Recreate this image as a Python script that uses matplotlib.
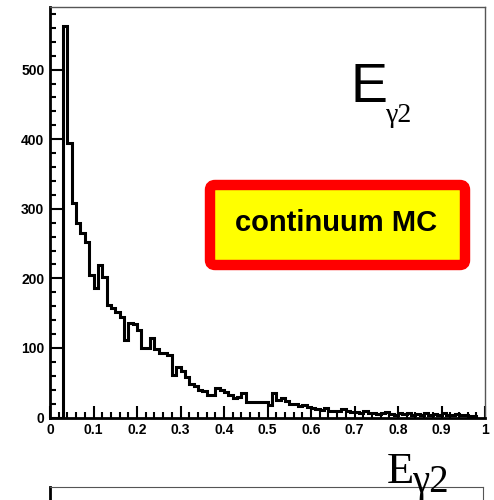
import numpy as np
import matplotlib
matplotlib.use("Agg")
import matplotlib.pyplot as plt
from matplotlib.patches import FancyBboxPatch
from matplotlib.ticker import MultipleLocator, FixedFormatter, FixedLocator

# histogram of E_gamma2, bins of 0.01 starting at 0.03
bin_start = 0.03
bin_width = 0.01
counts = [562, 395, 308, 280, 265, 252, 205, 186, 219, 202,
          162, 158, 152, 145, 112, 136, 135, 126, 100, 100,
          114, 98, 93, 92, 90, 61, 73, 67, 58, 48,
          45, 40, 38, 32, 33, 42, 40, 37, 33, 28,
          30, 35, 22, 22, 22, 22, 22, 18, 35, 25,
          28, 24, 20, 20, 17, 18, 15, 14, 12, 11,
          13, 10, 9, 10, 12, 10, 8, 8, 7, 9,
          6, 7, 5, 6, 8, 5, 4, 6, 5, 7,
          4, 5, 3, 6, 4, 5, 3, 6, 4, 3,
          5, 3, 4, 2, 2]
edges = bin_start + bin_width * np.arange(len(counts) + 1)

xticks = [0, 0.1, 0.2, 0.3, 0.4, 0.5, 0.6, 0.7, 0.8, 0.9, 1.0]
xtick_labels = ["0", "0.1", "0.2", "0.3", "0.4", "0.5", "0.6", "0.7", "0.8", "0.9", "1"]
yticks = [0, 100, 200, 300, 400, 500]
ytick_labels = ["0", "100", "200", "300", "400", "500"]

W, H = 494, 500
fig = plt.figure(figsize=(W / 100, H / 100), dpi=100)
fig.patch.set_facecolor("white")

L, R, T, B = 50, 485, 7, 417.5
ax = fig.add_axes([L / W, 1 - B / H, (R - L) / W, (B - T) / H])

ax.stairs(counts, edges, color="black", lw=2.2, baseline=0)

ax.set_xlim(0, 1)
ax.set_ylim(0, 590)

ax.xaxis.set_major_locator(FixedLocator(xticks))
ax.xaxis.set_major_formatter(FixedFormatter(xtick_labels))
ax.xaxis.set_minor_locator(MultipleLocator(0.02))
ax.yaxis.set_major_locator(FixedLocator(yticks))
ax.yaxis.set_major_formatter(FixedFormatter(ytick_labels))
ax.yaxis.set_minor_locator(MultipleLocator(20))

ax.tick_params(which="both", direction="in", top=False, right=False, width=1.5, color="black")
ax.tick_params(which="major", length=8.5)
ax.tick_params(which="minor", length=4.3)
ax.tick_params(axis="x", pad=4)
ax.tick_params(axis="y", pad=4)
for lbl in ax.get_xticklabels() + ax.get_yticklabels():
    lbl.set_fontfamily("Liberation Sans")
    lbl.set_fontsize(10)
    lbl.set_fontweight("bold")

ax.spines["left"].set_linewidth(2.0)
ax.spines["bottom"].set_linewidth(2.0)
for s in ("top", "right"):
    ax.spines[s].set_linewidth(1.0)
    ax.spines[s].set_color("#555555")

# title-like label inside the frame
ax.text((350 - L) / (R - L), (B - 102) / (B - T), "E", transform=ax.transAxes,
        fontsize=40, family="Liberation Sans", ha="left", va="baseline")
ax.text((386 - L) / (R - L), (B - 122) / (B - T), "γ2", transform=ax.transAxes,
        fontsize=20, family="Liberation Serif", ha="left", va="baseline")

# continuum MC box
x0, x1 = (210 - L) / (R - L), (465 - L) / (R - L)
y0, y1 = (B - 265) / (B - T), (B - 185) / (B - T)
box = FancyBboxPatch((x0, y0), x1 - x0, y1 - y0, transform=ax.transAxes,
                     boxstyle="round,pad=0,rounding_size=0.012",
                     facecolor="#ffff00", edgecolor="#ff0000", lw=7.5, zorder=3)
ax.add_patch(box)
ax.text((336 - L) / (R - L), (B - 223) / (B - T), "continuum MC", transform=ax.transAxes,
        fontsize=21, family="Liberation Sans", fontweight="bold",
        ha="center", va="center", zorder=4)

# axis title below
fig.text(387 / W, 1 - 483 / H, "E", fontsize=32, family="Liberation Serif",
         ha="left", va="baseline")
fig.text(412 / W, 1 - 492 / H, "γ2", fontsize=28, family="Liberation Serif",
         ha="left", va="baseline")

# top edge of the next panel
ax2 = fig.add_axes([L / W, -0.1, (483 - L) / W, 0.1 + 1 - 487 / H])
ax2.set_xticks([])
ax2.set_yticks([])
ax2.spines["left"].set_linewidth(2.0)
ax2.spines["top"].set_color("#555555")
ax2.spines["right"].set_color("#555555")

fig.savefig("out.png", dpi=100, facecolor="white")
